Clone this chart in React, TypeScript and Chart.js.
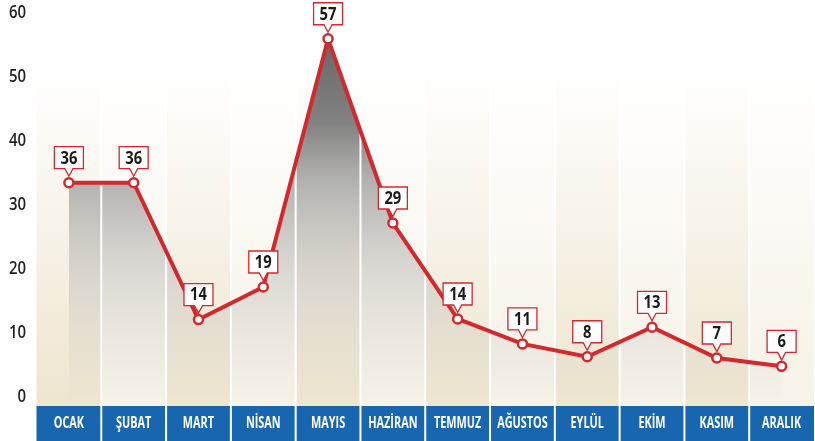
import React, { useEffect, useRef } from "react";
import { Chart, registerables } from "chart.js";

Chart.register(...registerables);

const months = ["OCAK", "ŞUBAT", "MART", "NİSAN", "MAYIS", "HAZİRAN", "TEMMUZ", "AĞUSTOS", "EYLÜL", "EKİM", "KASIM", "ARALIK"];
const valueLabels = [36, 36, 14, 19, 57, 29, 14, 11, 8, 13, 7, 6];
const plotted = [33.4, 33.4, 12, 17.1, 55.9, 27.1, 12.1, 8.2, 6.2, 10.8, 6, 4.7];
const yTicks = [0, 10, 20, 30, 40, 50, 60];

const FONT = "'Open Sans', 'DejaVu Sans', sans-serif";
const RED = "#d3282e";
const BLUE = "#1866b0";

function condText(ctx: CanvasRenderingContext2D, text: string, x: number, y: number, sx: number, align: CanvasTextAlign) {
  ctx.save();
  ctx.translate(x, y);
  ctx.scale(sx, 1);
  ctx.textAlign = align;
  ctx.textBaseline = "middle";
  ctx.fillText(text, 0, 0);
  ctx.restore();
}

const decorPlugin = {
  id: "decor",
  beforeDraw(chart: any) {
    const { ctx, chartArea, scales } = chart;
    const x = scales.x;
    const n = months.length;
    const colW = (chartArea.right - chartArea.left) / n;
    ctx.save();
    for (let i = 0; i < n; i++) {
      const cx = x.getPixelForValue(i);
      const l = cx - colW / 2;
      const g = ctx.createLinearGradient(0, 70, 0, chartArea.bottom);
      g.addColorStop(0, "rgba(255,255,255,1)");
      g.addColorStop(1, i % 2 === 0 ? "#eee5cf" : "#f7f2e6");
      ctx.fillStyle = g;
      ctx.fillRect(l, chartArea.top, colW, chartArea.bottom - chartArea.top);
      ctx.fillStyle = BLUE;
      ctx.fillRect(l, chartArea.bottom, colW, chart.height - chartArea.bottom);
    }
    ctx.restore();
  },
  beforeDatasetDraw(chart: any) {
    const { ctx, chartArea, scales } = chart;
    const x = scales.x;
    const n = months.length;
    const colW = (chartArea.right - chartArea.left) / n;
    ctx.save();
    ctx.fillStyle = "#ffffff";
    for (let i = 1; i < n; i++) {
      const bx = x.getPixelForValue(i) - colW / 2;
      ctx.fillRect(bx - 1, chartArea.top, 2, chart.height - chartArea.top);
    }
    ctx.restore();
  },
  afterDraw(chart: any) {
    const { ctx, chartArea, scales } = chart;
    const x = scales.x;
    const y = scales.y;
    ctx.save();
    // y tick labels
    ctx.fillStyle = "#231f20";
    ctx.font = `600 18px ${FONT}`;
    yTicks.forEach((v) => {
      condText(ctx, String(v), 26, y.getPixelForValue(v), 0.83, "right");
    });
    // category labels
    ctx.fillStyle = "#ffffff";
    ctx.font = `bold 16px ${FONT}`;
    months.forEach((m, i) => {
      condText(ctx, m, x.getPixelForValue(i), chartArea.bottom + 17, 0.68, "center");
    });
    // value labels
    const meta = chart.getDatasetMeta(0);
    meta.data.forEach((el: any, i: number) => {
      const px = el.x;
      const py = el.y;
      const w = 29;
      const h = 22;
      const left = px - w / 2;
      const bottom = py - 14;
      const top = bottom - h;
      ctx.beginPath();
      ctx.moveTo(left, top);
      ctx.lineTo(left + w, top);
      ctx.lineTo(left + w, bottom);
      ctx.lineTo(px + 4, bottom);
      ctx.lineTo(px, py - 6.5);
      ctx.lineTo(px - 4, bottom);
      ctx.lineTo(left, bottom);
      ctx.closePath();
      ctx.fillStyle = "#ffffff";
      ctx.fill();
      ctx.strokeStyle = RED;
      ctx.lineWidth = 1.3;
      ctx.stroke();
      ctx.fillStyle = "#1b1b1b";
      ctx.font = `bold 17px ${FONT}`;
      condText(ctx, String(valueLabels[i]), px, top + h / 2 + 1, 0.87, "center");
    });
    ctx.restore();
  },
};

export default function App() {
  const ref = useRef<HTMLCanvasElement | null>(null);
  useEffect(() => {
    document.body.style.overflow = "hidden";
    const canvas = ref.current!;
    const chart = new Chart(canvas, {
      type: "line",
      data: {
        labels: months,
        datasets: [
          {
            data: plotted,
            borderColor: RED,
            borderWidth: 4,
            tension: 0,
            fill: "origin",
            backgroundColor: (c: any) => {
              const area = c.chart.chartArea;
              if (!area) return "rgba(150,150,150,0.5)";
              const g = c.chart.ctx.createLinearGradient(0, 30, 0, area.bottom);
              g.addColorStop(0, "rgba(100,100,100,1)");
              g.addColorStop(0.25, "rgba(128,128,128,0.98)");
              g.addColorStop(0.4, "rgba(165,165,163,0.85)");
              g.addColorStop(0.65, "rgba(190,188,184,0.5)");
              g.addColorStop(1, "rgba(200,198,190,0)");
              return g;
            },
            pointRadius: 4.5,
            pointBorderWidth: 2.5,
            pointBackgroundColor: "#ffffff",
            pointBorderColor: RED,
          },
        ],
      },
      options: {
        animation: false,
        responsive: false,
        layout: { padding: { top: 12.5, right: 0, bottom: 0, left: 0 } },
        plugins: { legend: { display: false }, tooltip: { enabled: false } },
        scales: {
          x: {
            offset: true,
            grid: { display: false, drawTicks: false },
            border: { display: false },
            ticks: { display: false },
            afterFit: (s: any) => {
              s.height = 35;
            },
          },
          y: {
            min: -1.5,
            max: 60,
            grid: { display: false, drawTicks: false },
            border: { display: false },
            ticks: { display: false },
            afterFit: (s: any) => {
              s.width = 36.5;
            },
          },
        },
      },
      plugins: [decorPlugin],
    } as any);
    return () => chart.destroy();
  }, []);
  return (
    <div style={{ position: "fixed", left: 0, top: 0, width: 821, height: 441 }}>
      <canvas ref={ref} width={821} height={441} style={{ width: 821, height: 441, display: "block" }} />
    </div>
  );
}
